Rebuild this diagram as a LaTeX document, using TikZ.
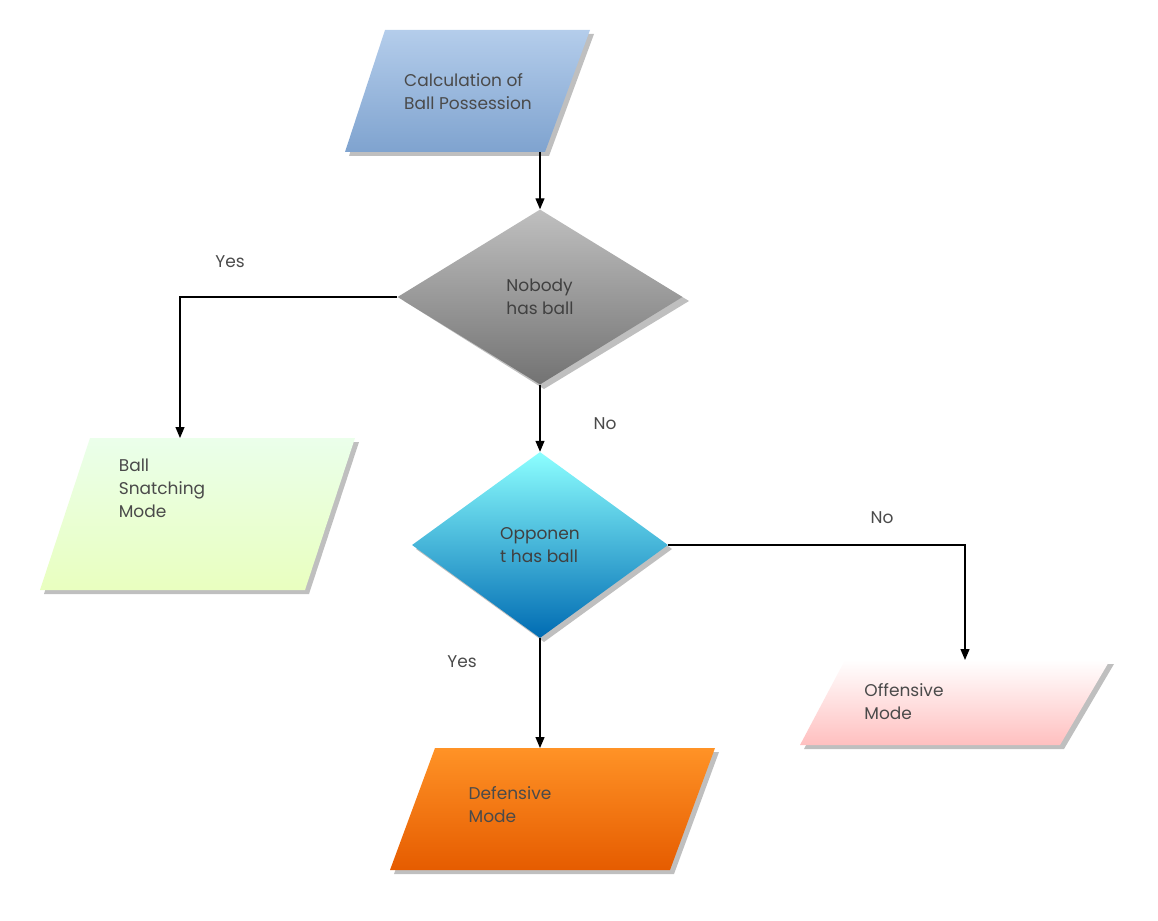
\documentclass[tikz,border=0pt]{standalone}
\usepackage{fontspec}
\setmainfont{Poppins}
\usetikzlibrary{shapes.geometric,arrows.meta,calc}
\begin{document}
\begin{tikzpicture}[x=1pt,y=-1pt,
  lbl/.style={font=\fontsize{17}{23}\selectfont\color[HTML]{4A4A4A},align=left},
  arr/.style={-{Triangle[length=11pt,width=9pt]},line width=1.2pt,black},
  dia/.style={diamond,draw=none,inner sep=0pt,font=\fontsize{17}{23}\selectfont,text=black!75,align=left}]
\useasboundingbox (0,0) rectangle (1158,920);
\newcommand{\mypara}[6]{%
  \fill[black!25] ($(#1)+(4,4)$) -- ($(#2)+(4,4)$) -- ($(#3)+(4,4)$) -- ($(#4)+(4,4)$) -- cycle;
  \shade[top color=#5,bottom color=#6] (#1) -- (#2) -- (#3) -- (#4) -- cycle;}
\definecolor{bluetop}{HTML}{B4CDEB}
\definecolor{bluebot}{HTML}{7FA3CF}
\mypara{385,30}{590,30}{545,152}{345,152}{bluetop}{bluebot}
\mypara{90,438}{355,438}{305,590}{40,590}{green!8!white}{green!35!yellow!25!white}
\mypara{845,660}{1110,660}{1060,745}{800,745}{white}{red!25!white}
\mypara{435,748}{715,748}{670,870}{390,870}{orange!85!white}{orange!80!red!90!black}
\node[lbl] (p1) at (468,92) {Calculation of\\Ball Possession};
\node[lbl] (p2) at (162,488) {Ball\\Snatching\\Mode};
\node[lbl] (p3) at (904,702) {Offensive\\Mode};
\node[lbl] (p4) at (510,805) {Defensive\\Mode};
\coordinate (p1b) at (540,152);
\coordinate (p2t) at (180,438);
\coordinate (p3t) at (965,660);
\coordinate (p4t) at (540,748);
\fill[black!25] (544,214) -- (689,301) -- (544,389) -- (404,301) -- cycle;
\node[dia,minimum width=285pt,minimum height=175pt,top color=black!25,bottom color=black!55] (d1) at (540,297) {Nobody\\has ball};
\fill[black!25] (544,456) -- (672,549) -- (544,642) -- (416,549) -- cycle;
\node[dia,minimum width=256pt,minimum height=186pt,top color=cyan!45!white,bottom color=cyan!60!blue!70!black] (d2) at (540,545) {Opponen\\t has ball};
\draw[arr] (p1b) -- (d1.north);
\draw[arr] (d1.west) -- (180,297) -- (p2t);
\draw[arr] (d1.south) -- (d2.north);
\draw[arr] (d2.east) -- (965,545) -- (p3t);
\draw[arr] (d2.south) -- (p4t);
\node[lbl] (y1) at (230,262) {Yes};
\node[lbl] (n1) at (605,424) {No};
\node[lbl] (n2) at (882,518) {No};
\node[lbl] (y2) at (462,662) {Yes};
\end{tikzpicture}
\end{document}
